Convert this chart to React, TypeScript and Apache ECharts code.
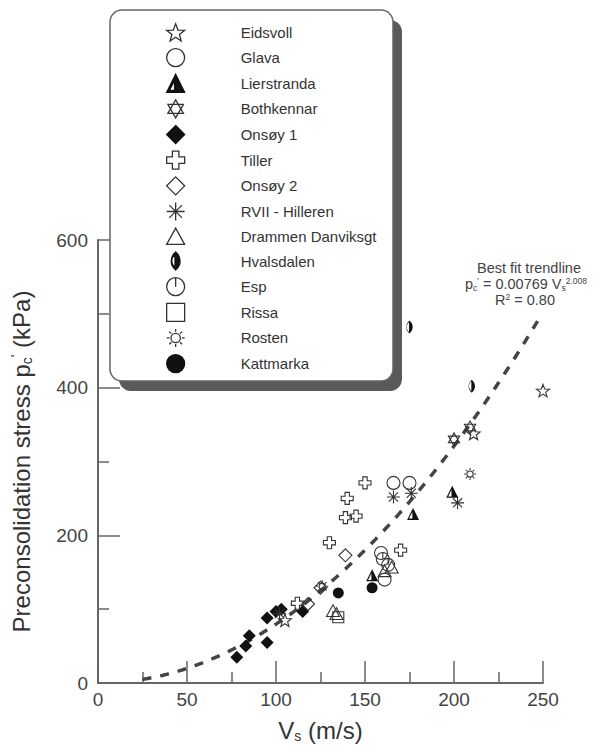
import React, { useEffect, useRef } from "react";
import * as echarts from "echarts";

// Field sites: [Vs (m/s), preconsolidation stress p'c (kPa)]
const eidsvoll = [[250, 396], [211, 338], [105, 85]];
const glava = [[166, 271], [175, 271], [159, 176], [161, 140]];
const lierstranda = [[177, 229], [199, 259], [154, 146]];
const bothkennar = [[200, 330], [209, 346]];
const onsoy1 = [[78, 35], [83, 50], [85, 64], [95, 55], [95, 88], [100, 97], [103, 100], [115, 97]];
const tiller = [[150, 271], [140, 250], [139, 224], [145, 226], [130, 190], [170, 180], [112, 108]];
const onsoy2 = [[139, 173], [125, 129], [118, 107]];
const rviiHilleren = [[166, 252], [176, 257], [202, 244], [102, 94]];
const drammen = [[132, 98], [134, 94], [161, 152], [165, 157]];
const hvalsdalen = [[175, 482], [210, 402]];
const esp = [[160, 168], [163, 160]];
const rissa = [[135, 89]];
const rosten = [[209, 283], [126, 131]];
const kattmarka = [[135, 122], [154, 129]];

// Power-law fit p'c = a * Vs^b
const TREND_A = 0.00769;
const TREND_B = 2.008;
const TREND_V_START = 25;
const TREND_V_END = 248;

const X_MIN = 0;
const X_MAX = 250;
const X_STEP = 50;
const Y_MIN = 0;
const Y_MAX = 600;
const Y_STEP = 200;

const FONT = "'Liberation Sans', Arial, sans-serif";

// ---- symbol outlines ----
const f = (n: number) => n.toFixed(2);
const polyPath = (pts: number[][]) =>
  "M" + pts.map((p) => f(p[0]) + "," + f(p[1])).join("L") + "Z";
const starPts = (n: number, R: number, r: number) => {
  const pts: number[][] = [];
  for (let i = 0; i < 2 * n; i++) {
    const a = -Math.PI / 2 + (i * Math.PI) / n;
    const rad = i % 2 === 0 ? R : r;
    pts.push([rad * Math.cos(a), rad * Math.sin(a)]);
  }
  return pts;
};
const circ = (r: number) =>
  `M0,${-r}A${r},${r} 0 1,1 0,${r}A${r},${r} 0 1,1 0,${-r}Z`;
const rays = () => {
  let s = "";
  for (let i = 0; i < 8; i++) {
    const a = (i * Math.PI) / 4;
    s += `M${f(3.4 * Math.cos(a))},${f(3.4 * Math.sin(a))}L${f(5 * Math.cos(a))},${f(5 * Math.sin(a))}`;
  }
  return s;
};

const SYM = {
  star: "path://" + polyPath(starPts(5, 5, 2.1)),
  circle: "path://" + circ(5),
  halfTriangle: "path://M5,0L10,10L0,10Z M4.4,3.4L1.6,8.9L4.4,8.9Z",
  hexagram: "path://M0,-5L4.33,2.5L-4.33,2.5Z M0,5L4.33,-2.5L-4.33,-2.5Z",
  diamond: "path://M0,-5L5,0L0,5L-5,0Z",
  cross: "path://M-1.8,-5L1.8,-5L1.8,-1.8L5,-1.8L5,1.8L1.8,1.8L1.8,5L-1.8,5L-1.8,1.8L-5,1.8L-5,-1.8L-1.8,-1.8Z",
  asterisk: "path://M-5,0L5,0M0,-5L0,5M-3.54,-3.54L3.54,3.54M-3.54,3.54L3.54,-3.54",
  triangle: "path://M0,-5L5,4L-5,4Z",
  halfLens: "path://M0,-7C4.6,-3 4.6,3 0,7C-4.6,3 -4.6,-3 0,-7Z M-0.5,-5.2C-3.9,-2.2 -3.9,2.2 -0.5,5.2Z",
  esp: "path://" + circ(5) + "M0,-5L0,0",
  square: "path://M-5,-5L5,-5L5,5L-5,5Z",
  sun: "path://" + circ(2.6) + rays(),
  dot: "path://" + circ(5),
};

type Site = { name: string; data: number[][]; symbol: string; solid: boolean; size: number };

const SITES: Site[] = [
  { name: "Eidsvoll", data: eidsvoll, symbol: SYM.star, solid: false, size: 13 },
  { name: "Glava", data: glava, symbol: SYM.circle, solid: false, size: 13 },
  { name: "Lierstranda", data: lierstranda, symbol: SYM.halfTriangle, solid: true, size: 12 },
  { name: "Bothkennar", data: bothkennar, symbol: SYM.hexagram, solid: false, size: 13 },
  { name: "Onsøy 1", data: onsoy1, symbol: SYM.diamond, solid: true, size: 13 },
  { name: "Tiller", data: tiller, symbol: SYM.cross, solid: false, size: 12 },
  { name: "Onsøy 2", data: onsoy2, symbol: SYM.diamond, solid: false, size: 13 },
  { name: "RVII - Hilleren", data: rviiHilleren, symbol: SYM.asterisk, solid: false, size: 13 },
  { name: "Drammen Danviksgt", data: drammen, symbol: SYM.triangle, solid: false, size: 13 },
  { name: "Hvalsdalen", data: hvalsdalen, symbol: SYM.halfLens, solid: true, size: 13 },
  { name: "Esp", data: esp, symbol: SYM.esp, solid: false, size: 13 },
  { name: "Rissa", data: rissa, symbol: SYM.square, solid: false, size: 11 },
  { name: "Rosten", data: rosten, symbol: SYM.sun, solid: false, size: 12 },
  { name: "Kattmarka", data: kattmarka, symbol: SYM.dot, solid: true, size: 11 },
];

const trendData = () => {
  const pts: number[][] = [];
  for (let v = TREND_V_START; v <= TREND_V_END; v += 1) {
    pts.push([v, TREND_A * Math.pow(v, TREND_B)]);
  }
  return pts;
};

export default function App() {
  const ref = useRef<HTMLDivElement>(null);

  useEffect(() => {
    if (!ref.current) return;
    const chart = echarts.init(ref.current, undefined, { renderer: "svg" });

    const axisColor = "#666";
    const commonAxis = {
      type: "value" as const,
      axisLine: { show: true, onZero: false, lineStyle: { color: axisColor, width: 2 } },
      axisTick: { show: true, inside: true, length: 22, lineStyle: { color: axisColor, width: 1.5 } },
      minorTick: { show: true, splitNumber: 2, length: 11, lineStyle: { color: axisColor, width: 1.5 } },
      splitLine: { show: false },
      minorSplitLine: { show: false },
      axisLabel: { fontSize: 19, color: "#444", fontFamily: FONT },
    };

    const titleStyle = {
      fontSize: 24,
      color: "#333",
      fontFamily: FONT,
      rich: {
        sub: { fontSize: 14, fontFamily: FONT, color: "#333", padding: [12, 0, 0, 0] },
        sup: { fontSize: 14, fontFamily: FONT, color: "#333", padding: [0, 0, 10, 0] },
      },
    };

    const annoRich = {
      sub: { fontSize: 8.5, fontFamily: FONT, fill: "#444", padding: [7, 0, 0, 0] },
      sup: { fontSize: 8.5, fontFamily: FONT, fill: "#444", padding: [0, 0, 7, 0] },
    };

    chart.setOption({
      animation: false,
      backgroundColor: "#fff",
      textStyle: { fontFamily: FONT },
      grid: { left: 98, right: 55, top: 240, bottom: 64, outerBoundsMode: "none" },
      xAxis: {
        ...commonAxis,
        min: X_MIN,
        max: X_MAX,
        interval: X_STEP,
        axisLabel: { ...commonAxis.axisLabel, margin: 7 },
        name: "V{sub|s} (m/s)",
        nameLocation: "middle",
        nameGap: 34,
        nameTextStyle: titleStyle,
      },
      yAxis: {
        ...commonAxis,
        min: Y_MIN,
        max: Y_MAX,
        interval: Y_STEP,
        axisLabel: { ...commonAxis.axisLabel, margin: 10 },
        name: "Preconsolidation stress p{sub|c}{sup|'} (kPa)",
        nameLocation: "middle",
        nameGap: 64,
        nameTextStyle: titleStyle,
      },
      legend: {
        data: SITES.map((s) => ({ name: s.name, icon: s.symbol })),
        orient: "vertical",
        left: 166,
        top: 23.2,
        padding: 0,
        itemWidth: 18,
        itemHeight: 18,
        itemGap: 6.35,
        symbolKeepAspect: true,
        selectedMode: false,
        itemStyle: { borderWidth: 1.3 },
        textStyle: { fontSize: 15, color: "#333", fontFamily: FONT, padding: [0, 0, 0, 51] },
        z: 6,
      },
      graphic: [
        {
          type: "rect",
          z: 3,
          shape: { x: 119, y: 20, width: 283, height: 371, r: 12 },
          style: { fill: "#5a5a5a" },
        },
        {
          type: "rect",
          z: 4,
          shape: { x: 110, y: 10, width: 283, height: 371, r: 12 },
          style: { fill: "#fff", stroke: "#666", lineWidth: 1.5 },
        },
        {
          type: "text",
          z: 5,
          x: 529,
          y: 268,
          style: { text: "Best fit trendline", align: "center", verticalAlign: "middle", fontSize: 14.5, fontFamily: FONT, fill: "#444" },
        },
        {
          type: "text",
          z: 5,
          x: 526,
          y: 284,
          style: {
            text: "p{sub|c}{sup|'} = 0.00769 V{sub|s}{sup|2.008}",
            align: "center",
            verticalAlign: "middle",
            fontSize: 14.5,
            fontFamily: FONT,
            fill: "#444",
            rich: annoRich,
          },
        },
        {
          type: "text",
          z: 5,
          x: 525,
          y: 300,
          style: {
            text: "R{sup|2} = 0.80",
            align: "center",
            verticalAlign: "middle",
            fontSize: 14.5,
            fontFamily: FONT,
            fill: "#444",
            rich: annoRich,
          },
        },
      ],
      series: [
        {
          name: "trend",
          type: "line",
          data: trendData(),
          showSymbol: false,
          symbol: "none",
          silent: true,
          z: 2,
          lineStyle: { color: "#444", width: 3.5, type: [9, 9] },
        },
        ...SITES.map((s) => ({
          name: s.name,
          type: "scatter",
          data: s.data,
          symbol: s.symbol,
          symbolSize: s.size,
          symbolKeepAspect: true,
          z: 3,
          itemStyle: s.solid
            ? { color: "#111", borderColor: "#111", borderWidth: 0, opacity: 1 }
            : { color: "rgba(255,255,255,0)", borderColor: "#333", borderWidth: 1.1, opacity: 1 },
        })),
      ],
    });

    return () => chart.dispose();
  }, []);

  return (
    <div
      ref={ref}
      style={{ position: "fixed", left: 0, top: 0, width: 598, height: 747, background: "#fff" }}
    />
  );
}
